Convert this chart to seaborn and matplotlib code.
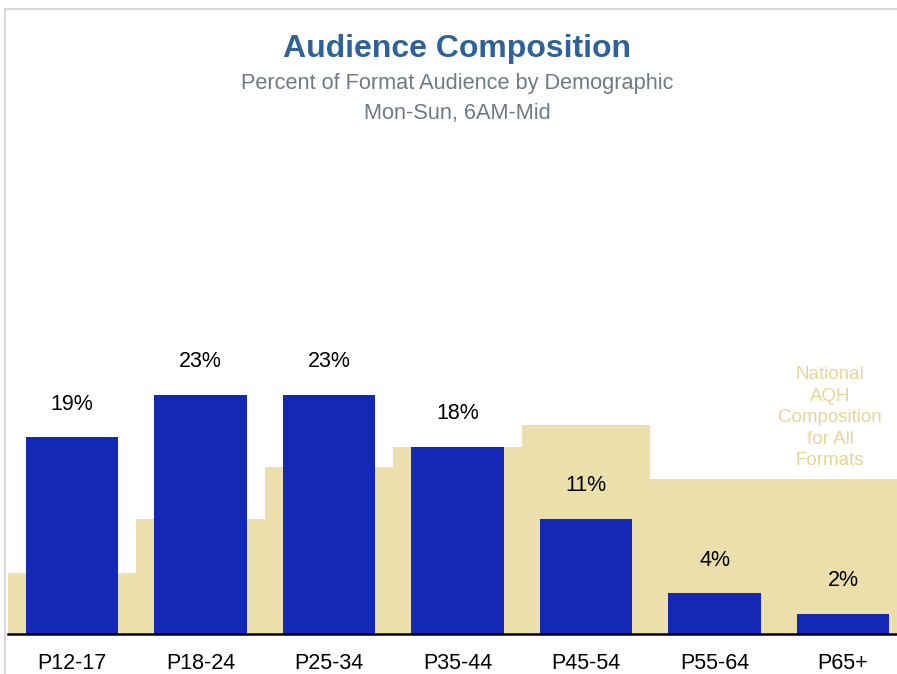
import matplotlib
matplotlib.use("Agg")
import matplotlib.pyplot as plt
import seaborn as sns
import pandas as pd
from matplotlib.lines import Line2D

# data
demos = ["P12-17", "P18-24", "P25-34", "P35-44", "P45-54", "P55-64", "P65+"]
format_pct = [18.9, 23.0, 23.0, 18.0, 11.1, 3.9, 1.9]
format_labels = ["19%", "23%", "23%", "18%", "11%", "4%", "2%"]
national_pct = [5.9, 11.1, 16.1, 18.0, 20.1, 14.9, 14.9]

BLUE = "#1428b6"
TAN = "#ebdfab"
TAN_TEXT = "#e6d597"
TITLE_BLUE = "#2f6299"
SUB_GREY = "#6f7a85"

df = pd.DataFrame({"demo": demos, "fmt": format_pct, "nat": national_pct})

sns.set_theme(style="white")
plt.rcParams["font.family"] = ["Liberation Sans", "DejaVu Sans"]

W, H = 897, 674
fig = plt.figure(figsize=(W / 100, H / 100), dpi=100)
fig.patch.set_facecolor("white")

# axes placed in pixel terms: baseline at y=634, left edge at x=8
ax = fig.add_axes([8 / W, (H - 634) / H, 1 - 8 / W, (634 - 140) / H])

sns.barplot(data=df, x="demo", y="nat", order=demos, color=TAN,
            width=1.0, linewidth=0, saturation=1, ax=ax)
sns.barplot(data=df, x="demo", y="fmt", order=demos, color=BLUE,
            width=0.72, linewidth=0, saturation=1, ax=ax)

for i, (v, lab) in enumerate(zip(format_pct, format_labels)):
    ax.annotate(lab, (i, v), xytext=(0, 24), textcoords="offset points",
                ha="center", va="center", fontsize=15.5, color="black")

ax.set_xlim(-0.5, 6.42)
ax.set_ylim(0, 47.5)
ax.set_xlabel("")
ax.set_ylabel("")
ax.set_yticks([])
ax.tick_params(axis="x", length=0, labelsize=15.5, pad=14, colors="black")
for s in ["top", "left", "right"]:
    ax.spines[s].set_visible(False)
ax.spines["bottom"].set_color("black")
ax.spines["bottom"].set_linewidth(1.8)
ax.set_facecolor("none")

ax.text(5.9, 20.8, "National\nAQH\nComposition\nfor All\nFormats",
        ha="center", va="center", fontsize=13.5, color=TAN_TEXT,
        linespacing=1.35)

fig.text(457 / W, 1 - 49 / H, "Audience Composition", ha="center",
         va="center", fontsize=23, fontweight="bold", color=TITLE_BLUE)
fig.text(457 / W, 1 - 83 / H, "Percent of Format Audience by Demographic",
         ha="center", va="center", fontsize=15.7, color=SUB_GREY)
fig.text(457 / W, 1 - 113 / H, "Mon-Sun, 6AM-Mid", ha="center",
         va="center", fontsize=15.7, color=SUB_GREY)

# light frame at top and left
fig.add_artist(Line2D([5 / W, 1], [1 - 9 / H, 1 - 9 / H], color="#d8d8d8",
                      lw=1.5, transform=fig.transFigure))
fig.add_artist(Line2D([5 / W, 5 / W], [0, 1 - 9 / H], color="#d8d8d8",
                      lw=1.5, transform=fig.transFigure))

fig.savefig("out.png", dpi=100, facecolor="white")
